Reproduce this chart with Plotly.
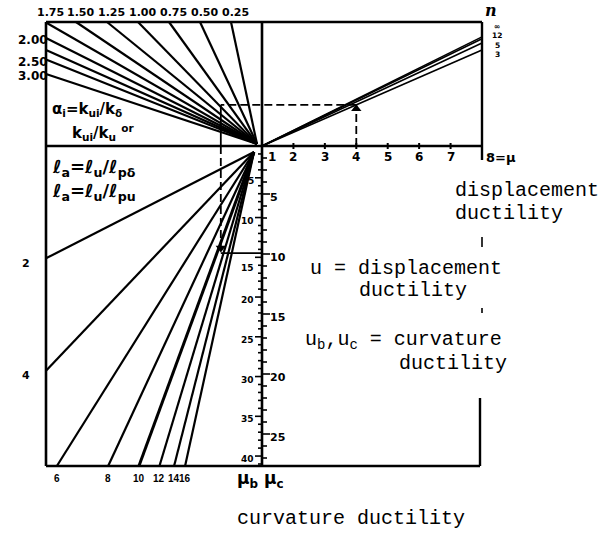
import plotly.graph_objects as go

# ---------------- nomogram values ----------------
# stiffness ratio rays  alpha_i = k_ui / k_delta
ALPHA = [0.25, 0.50, 0.75, 1.00, 1.25, 1.50, 1.75, 2.00, 2.25, 2.50, 3.00]
ALPHA_LABELS = ["0.25", "0.50", "0.75", "1.00", "1.25", "1.50", "1.75", "2.00", "", "2.50", "3.00"]

# n-curves: ordinate reached at mu = 8 (fraction of the upper panel height)
N_LABELS = ["∞", "12", "5", "3"]
N_Q_AT_8 = [0.88, 0.865, 0.83, 0.775]

# plastic hinge length ratios  l_a = l_u / l_p
LA = [2, 4, 6, 8, 10, 12, 14, 16]

# axis ticks
MU_TICKS = [1, 2, 3, 4, 5, 6, 7]
MUC_LABELS = [5, 10, 15, 20, 25]
MUB_LABELS = [5, 10, 15, 20, 25, 30, 35, 40]

# worked example
EX_MU, EX_ALPHA, EX_LA = 4, 1.0, 10

# ---------------- nomogram construction scales ----------------
TOP_H = 124.0          # height of unit ordinate in the upper panel
LEFT_W = 216.0         # width of the left panels
RIGHT_W = 220.0        # width of the displacement-ductility panel
BOTTOM_D = 320.0       # depth of the curvature panel
MU_STEP = RIGHT_W / 7  # mu from 1 to 8
MUC_STEP = 12.0
MUB_STEP = 7.95
LA_K = 0.26            # slope factor of the l_a rays

def mu_x(mu):
    return (mu - 1) * MU_STEP

def muc_y(v):
    return -(v - 1) * MUC_STEP

def mub_y(v):
    return -(v - 1) * MUB_STEP

fig = go.Figure()

def seg(xs, ys, width=2.2, dash="solid", color="black"):
    fig.add_trace(go.Scatter(x=xs, y=ys, mode="lines",
                             line=dict(color=color, width=width, dash=dash),
                             hoverinfo="skip", showlegend=False))

def text(x, y, s, size=11, anchor="center", valign="middle", family="DejaVu Sans",
         bold=False, italic=False, angle=0, pad=1):
    if bold:
        s = "<b>" + s + "</b>"
    if italic:
        s = "<i>" + s + "</i>"
    fig.add_annotation(x=x, y=y, xref="x", yref="y", text=s, showarrow=False,
                       xanchor=anchor, yanchor=valign, textangle=angle, borderpad=pad,
                       font=dict(family=family, size=size, color="black"))

# ---------------- frame ----------------
seg([-LEFT_W, RIGHT_W], [TOP_H, TOP_H], 2.6)
seg([-LEFT_W, -LEFT_W], [TOP_H, -BOTTOM_D], 2.6)
seg([RIGHT_W, RIGHT_W], [TOP_H, -14], 2.4)
seg([-LEFT_W, RIGHT_W], [0, 0], 2.6)
seg([0, 0], [TOP_H, -BOTTOM_D], 2.6)
seg([-LEFT_W, RIGHT_W - 2], [-BOTTOM_D, -BOTTOM_D], 2.6)
seg([RIGHT_W - 2, RIGHT_W - 2], [-252, -BOTTOM_D], 2.4)

# mu axis ticks and labels
for m in MU_TICKS[1:]:
    seg([mu_x(m), mu_x(m)], [-3, 3], 2)
for m in MU_TICKS:
    dx = 10 if m == 1 else 0
    text(mu_x(m) + dx, -11, str(m), size=12, bold=True)
text(RIGHT_W + 2, -11, "8=μ", size=13, anchor="left", bold=True)

# curvature ductility scales on the vertical axis
v = 1
while muc_y(v) >= -BOTTOM_D + 2:
    seg([0, 5 if v % 5 else 8], [muc_y(v), muc_y(v)], 1.6)
    v += 1
v = 1
while mub_y(v) >= -BOTTOM_D + 2:
    seg([-4 if v % 5 else -7, 0], [mub_y(v), mub_y(v)], 1.6)
    v += 1
for v in MUC_LABELS:
    text(6, muc_y(v) - 3, str(v), size=11, anchor="left", bold=True)
for v in MUB_LABELS:
    dy = -8 if v == 15 else 0
    text(-6, mub_y(v) - 3 + dy, str(v), size=9, anchor="right", bold=True)

# ---------------- alpha rays (upper left) ----------------
for a, lab in zip(ALPHA, ALPHA_LABELS):
    if a * TOP_H <= LEFT_W:
        ex, ey = -a * TOP_H, TOP_H
    else:
        ex, ey = -LEFT_W, LEFT_W / a
    seg([-5, ex], [2, ey], 2.2)
    if lab:
        if ey >= TOP_H - 2:
            text(ex + 4, TOP_H + 10, lab, size=11, bold=True)
        else:
            text(-LEFT_W - 13, ey - 2, lab, size=12, bold=True)

# ---------------- n lines (upper right) ----------------
for q in N_Q_AT_8:
    seg([0, mu_x(8)], [0, q * TOP_H], 1.6)
text(RIGHT_W + 9, TOP_H + 1, "n", size=16, valign="bottom", family="DejaVu Serif",
     bold=True, italic=True, pad=0)
for i, lab in enumerate(N_LABELS):
    text(RIGHT_W + 15, TOP_H - 4 - 9.6 * i, lab, size=7.5, bold=True, pad=0)

# ---------------- l_a rays (lower left) ----------------
for la in LA:
    s = LA_K * la
    wb = BOTTOM_D / s
    if wb <= LEFT_W:
        ex, ey = -wb, -BOTTOM_D
        text(ex, -BOTTOM_D - 12, str(la), size=10, bold=True, family="Liberation Sans", pad=0)
    else:
        ex, ey = -LEFT_W, -s * LEFT_W
        text(-LEFT_W - 20, ey - 5, str(la), size=11, bold=True)
    seg([-8, ex], [-6, ey], 3.0 if la == 10 else 2.2)

# ---------------- worked example ----------------
q_ex = N_Q_AT_8[-1] * (EX_MU - 1) / 7 * TOP_H
x_ex = -EX_ALPHA * q_ex
y_ex = -LA_K * EX_LA * (-x_ex)
DASH = "8px,4px"
seg([mu_x(EX_MU), mu_x(EX_MU)], [0, q_ex], 1.8, DASH)
seg([mu_x(EX_MU), x_ex], [q_ex, q_ex], 1.8, DASH)
seg([x_ex, x_ex], [q_ex, 0], 1.8)
seg([x_ex, x_ex], [0, y_ex], 1.8, DASH)
seg([x_ex, 0], [y_ex, y_ex], 1.8)
fig.add_trace(go.Scatter(x=[mu_x(EX_MU), x_ex], y=[q_ex - 4, y_ex + 5], mode="markers",
                         marker=dict(symbol=["triangle-up", "triangle-down"], size=9, color="black"),
                         hoverinfo="skip", showlegend=False))

# ---------------- captions ----------------
text(-LEFT_W + 4, 37, "α<sub>i</sub>=k<sub>ui</sub>/k<sub>δ</sub>", size=15, anchor="left", bold=True)
text(-LEFT_W + 24, 14, "k<sub>ui</sub>/k<sub>u</sub> <sup>or</sup>", size=15, anchor="left", bold=True)
text(-LEFT_W + 4, -22, "ℓ<sub>a</sub>=ℓ<sub>u</sub>/ℓ<sub>pδ</sub>", size=18, anchor="left", bold=True)
text(-LEFT_W + 4, -46, "ℓ<sub>a</sub>=ℓ<sub>u</sub>/ℓ<sub>pu</sub>", size=18, anchor="left", bold=True)
text(-15, -BOTTOM_D - 13, "μ<sub>b</sub>", size=17, bold=True)
text(12, -BOTTOM_D - 13, "μ<sub>c</sub>", size=17, bold=True)

MONO = "Liberation Mono"
text(191, -44, "displacement", size=20, anchor="left", family=MONO)
text(191, -67, "ductility", size=20, anchor="left", family=MONO)
seg([220, 220], [-91, -101], 1.6)
text(46, -122, "u = displacement", size=20, anchor="left", family=MONO)
text(95, -144, "ductility", size=20, anchor="left", family=MONO)
seg([220, 220], [-162, -167], 1.6)
text(41, -194, "u<sub>b</sub>,u<sub>c</sub> = curvature", size=20, anchor="left", family=MONO)
text(135, -217, "ductility", size=20, anchor="left", family=MONO)
text(-27, -372, "curvature ductility", size=20, anchor="left", family=MONO)

fig.update_layout(
    width=603, height=536,
    margin=dict(l=0, r=0, t=0, b=0),
    paper_bgcolor="white", plot_bgcolor="white",
    xaxis=dict(range=[-262, 341], visible=False, fixedrange=True),
    yaxis=dict(range=[-390, 146], visible=False, fixedrange=True),
    showlegend=False,
)

fig.write_html("out.html")
